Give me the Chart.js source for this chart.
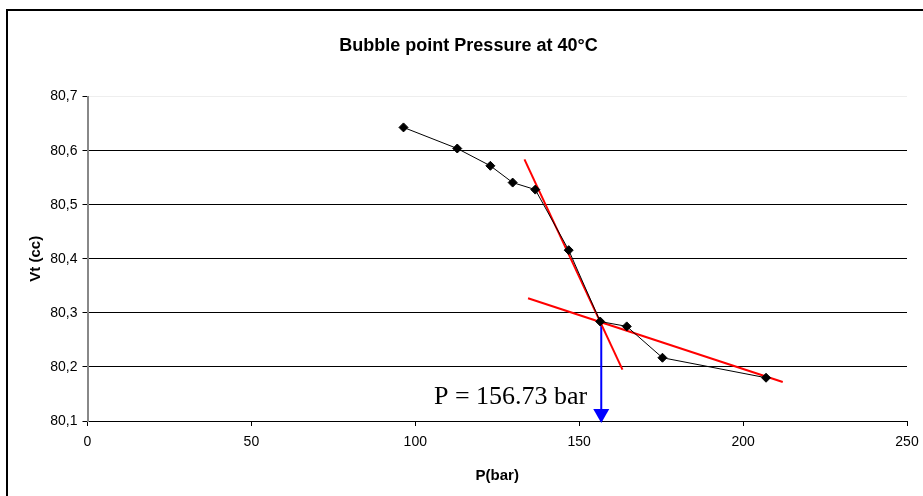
<!DOCTYPE html>
<html>
<head>
<meta charset="utf-8">
<script src="https://cdn.jsdelivr.net/npm/chart.js@4/dist/chart.umd.min.js"></script>
<style>
  html, body { margin: 0; padding: 0; background: #fff; }
  #wrap { width: 923px; height: 496px; }
</style>
</head>
<body>
<div id="wrap"><canvas id="bubbleChart" width="923" height="496"></canvas></div>
<script>
// measured points
const pressure = [96.4, 112.8, 122.9, 129.7, 136.6, 146.8, 156.4, 164.5, 175.4, 207.0];
const volume = [80.643, 80.604, 80.572, 80.541, 80.528, 80.416, 80.284, 80.275, 80.217, 80.180];

// hand drawn tangent lines
const steepX = [133.3, 163.2];
const steepY = [80.584, 80.195];
const flatX = [134.4, 212.1];
const flatY = [80.327, 80.172];

// bubble point arrow
const bubbleP = 156.73;
const arrowY = [80.28, 80.1];

const xTicks = [0, 50, 100, 150, 200, 250];
const yTicks = [80.1, 80.2, 80.3, 80.4, 80.5, 80.6, 80.7];

function pairs(xs, ys) {
    return xs.map(function(x, i) { return { x: x, y: ys[i] }; });
}

const frame = {
    id: 'frame',
    beforeDraw: function(chart) {
        const ctx = chart.ctx;
        ctx.save();
        ctx.fillStyle = '#fff';
        ctx.fillRect(0, 0, chart.width, chart.height);
        ctx.strokeStyle = '#000';
        ctx.lineWidth = 2;
        ctx.strokeRect(7, 10, chart.width + 20, chart.height + 20);
        ctx.restore();
    },
    afterDraw: function(chart) {
        const ctx = chart.ctx;
        const x = chart.scales.x.getPixelForValue(bubbleP);
        const yEnd = chart.scales.y.getPixelForValue(arrowY[1]);
        ctx.save();
        // arrow head
        ctx.fillStyle = '#0000ff';
        ctx.beginPath();
        ctx.moveTo(x, yEnd + 2);
        ctx.lineTo(x - 8, yEnd - 12);
        ctx.lineTo(x + 8, yEnd - 12);
        ctx.closePath();
        ctx.fill();
        // label
        ctx.fillStyle = '#000';
        ctx.font = '26px "Liberation Serif", "Times New Roman", serif';
        ctx.textAlign = 'right';
        ctx.textBaseline = 'alphabetic';
        ctx.fillText('P = ' + bubbleP.toFixed(2) + ' bar', x - 14, yEnd - 17);
        ctx.restore();
    }
};

new Chart(document.getElementById('bubbleChart').getContext('2d'), {
    type: 'scatter',
    data: {
        datasets: [
            {
                label: 'Vt',
                data: pairs(pressure, volume),
                showLine: true,
                borderColor: '#000',
                borderWidth: 1,
                pointStyle: 'rectRot',
                pointRadius: 4.5,
                pointBackgroundColor: '#000',
                pointBorderColor: '#000'
            },
            {
                label: 'tangent 1',
                data: pairs(steepX, steepY),
                showLine: true,
                borderColor: '#ff0000',
                borderWidth: 2,
                pointRadius: 0
            },
            {
                label: 'tangent 2',
                data: pairs(flatX, flatY),
                showLine: true,
                borderColor: '#ff0000',
                borderWidth: 2,
                pointRadius: 0
            },
            {
                label: 'Pb',
                data: pairs([bubbleP, bubbleP], arrowY),
                showLine: true,
                borderColor: '#0000ff',
                borderWidth: 2,
                pointRadius: 0,
                clip: false
            }
        ]
    },
    options: {
        responsive: false,
        animation: false,
        layout: {
            padding: { left: 30, right: 16, top: 0, bottom: 0 }
        },
        plugins: {
            legend: { display: false },
            tooltip: { enabled: false },
            title: {
                display: true,
                text: 'Bubble point Pressure at 40°C',
                color: '#000',
                font: { family: '"Liberation Sans", Arial, sans-serif', size: 18, weight: 'bold' },
                padding: { top: 35, bottom: 40 }
            }
        },
        scales: {
            x: {
                type: 'linear',
                min: xTicks[0],
                max: xTicks[xTicks.length - 1],
                afterBuildTicks: function(scale) {
                    scale.ticks = xTicks.map(function(v) { return { value: v }; });
                },
                afterFit: function(scale) {
                    scale.height = 75;
                    scale.paddingRight = 4;
                },
                grid: { drawOnChartArea: false, drawTicks: true, tickLength: 5, tickColor: '#000' },
                border: { color: '#000', width: 1 },
                ticks: {
                    color: '#000',
                    padding: 8,
                    font: { family: '"Liberation Sans", Arial, sans-serif', size: 14 }
                },
                title: {
                    display: true,
                    text: 'P(bar)',
                    color: '#000',
                    font: { family: '"Liberation Sans", Arial, sans-serif', size: 15, weight: 'bold' },
                    padding: { top: 0, bottom: 11 }
                }
            },
            y: {
                type: 'linear',
                min: yTicks[0],
                max: yTicks[yTicks.length - 1],
                afterBuildTicks: function(scale) {
                    scale.ticks = yTicks.map(function(v) { return { value: v }; });
                },
                afterFit: function(scale) { scale.width = 57.5; },
                grid: {
                    color: function(c) {
                        return c.tick && Math.abs(c.tick.value - 80.7) < 1e-6 ? '#eeeeee' : '#000';
                    },
                    tickColor: '#000',
                    tickLength: 5,
                    lineWidth: 1
                },
                border: { color: '#888', width: 2 },
                ticks: {
                    color: '#000',
                    padding: 5,
                    font: { family: '"Liberation Sans", Arial, sans-serif', size: 14 },
                    callback: function(value) {
                        return value.toFixed(1).replace('.', ',');
                    }
                },
                title: {
                    display: true,
                    text: 'Vt (cc)',
                    color: '#000',
                    font: { family: '"Liberation Sans", Arial, sans-serif', size: 15, weight: 'bold' },
                    padding: { top: -3, bottom: 0 }
                }
            }
        }
    },
    plugins: [frame]
});
</script>
</body>
</html>
